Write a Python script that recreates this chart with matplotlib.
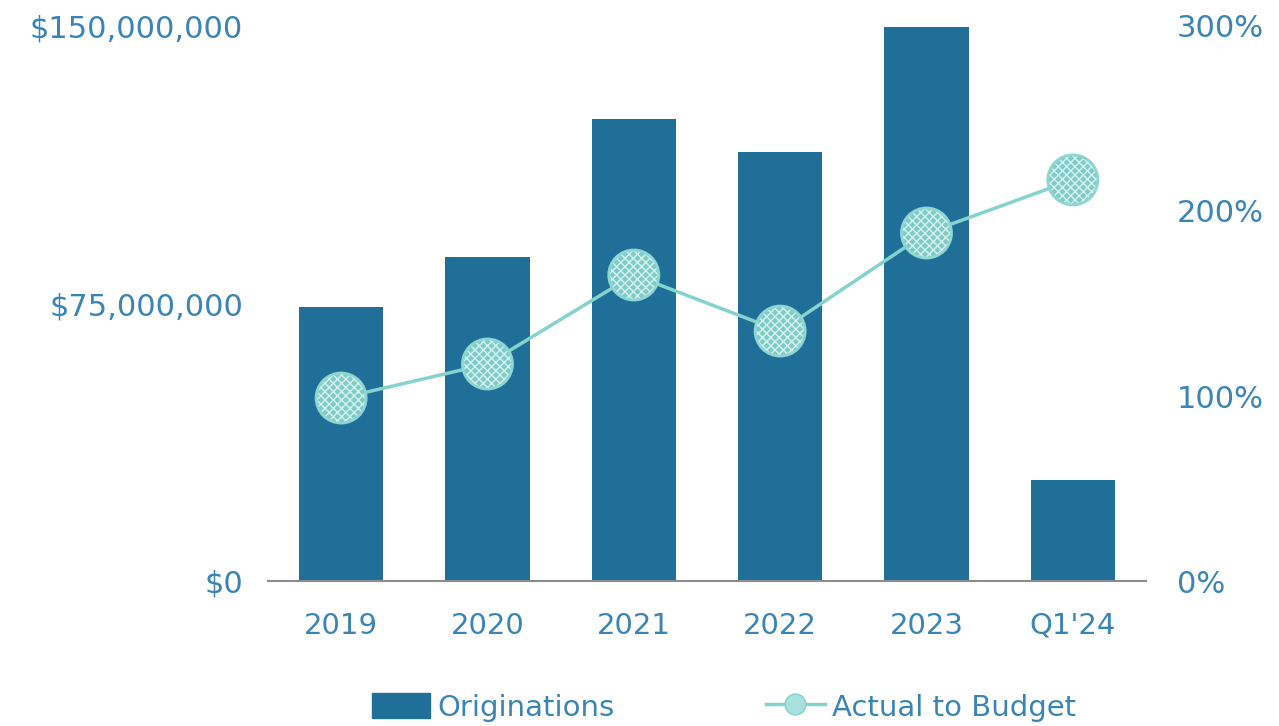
import matplotlib
matplotlib.use("Agg")
import matplotlib.pyplot as plt
from matplotlib.lines import Line2D
from matplotlib.patches import Patch
from matplotlib.ticker import FuncFormatter

categories = ["2019", "2020", "2021", "2022", "2023", "Q1'24"]
originations = [74.0e6, 87.6e6, 124.9e6, 115.9e6, 149.7e6, 27.3e6]
actual_to_budget = [98.9, 117.3, 165.4, 135.1, 188.1, 216.8]

bar_color = "#1f6f99"
line_color = "#86d2ce"
text_color = "#3a85b5"

plt.rcParams['font.family'] = ['DejaVu Sans']
plt.rcParams['hatch.linewidth'] = 1.0

fig = plt.figure(figsize=(12.79, 7.26), dpi=100)
ax = fig.add_axes([0.2095, 0.1997, 0.6865, 0.7645])
x = list(range(len(categories)))
ax.bar(x, originations, width=0.575, color=bar_color, zorder=2)
ax.set_xlim(-0.5, 5.5)
ax.set_ylim(0, 150e6)
ax.set_yticks([0, 75e6, 150e6])
ax.yaxis.set_major_formatter(FuncFormatter(lambda v, p: "${:,.0f}".format(v)))
ax.set_xticks(x)
ax.set_xticklabels(categories)
for s in ["left", "right", "top"]:
    ax.spines[s].set_visible(False)
ax.spines["bottom"].set_color("#8c8c8c")
ax.spines["bottom"].set_linewidth(1.5)
ax.tick_params(axis="y", length=0, pad=18, labelsize=22, labelcolor=text_color)
ax.tick_params(axis="x", length=0, pad=22, labelsize=21, labelcolor=text_color)

ax2 = ax.twinx()
ax2.set_ylim(0, 300)
ax2.set_yticks([0, 100, 200, 300])
ax2.yaxis.set_major_formatter(FuncFormatter(lambda v, p: "{:.0f}%".format(v)))
for s in ["left", "right", "top", "bottom"]:
    ax2.spines[s].set_visible(False)
ax2.tick_params(axis="y", length=0, pad=22, labelsize=22, labelcolor=text_color)
ax2.plot(x, actual_to_budget, color=line_color, lw=2.5, zorder=3)
ax2.scatter(x, actual_to_budget, s=1300, facecolor="#7fcbc7", edgecolor="#d6f1ef",
            linewidth=0, hatch="xxxx", zorder=4)
ax2.scatter(x, actual_to_budget, s=1300, facecolor="none", edgecolor="#8fd6d2",
            linewidth=2, zorder=5)

handles = [Patch(facecolor=bar_color, edgecolor=bar_color),
           Line2D([0], [0], color=line_color, lw=2.5, marker="o", markersize=15,
                  markerfacecolor="#a8e0dd", markeredgecolor=line_color)]
leg = fig.legend(handles, ["Originations", "Actual to Budget"], loc="lower center",
                 bbox_to_anchor=(0.566, -0.03), ncol=2, frameon=False, fontsize=21,
                 handlelength=2.0, handletextpad=0.25, columnspacing=5.2,
                 handleheight=0.9)
for t in leg.get_texts():
    t.set_color(text_color)

fig.savefig("out.png", dpi=100)
